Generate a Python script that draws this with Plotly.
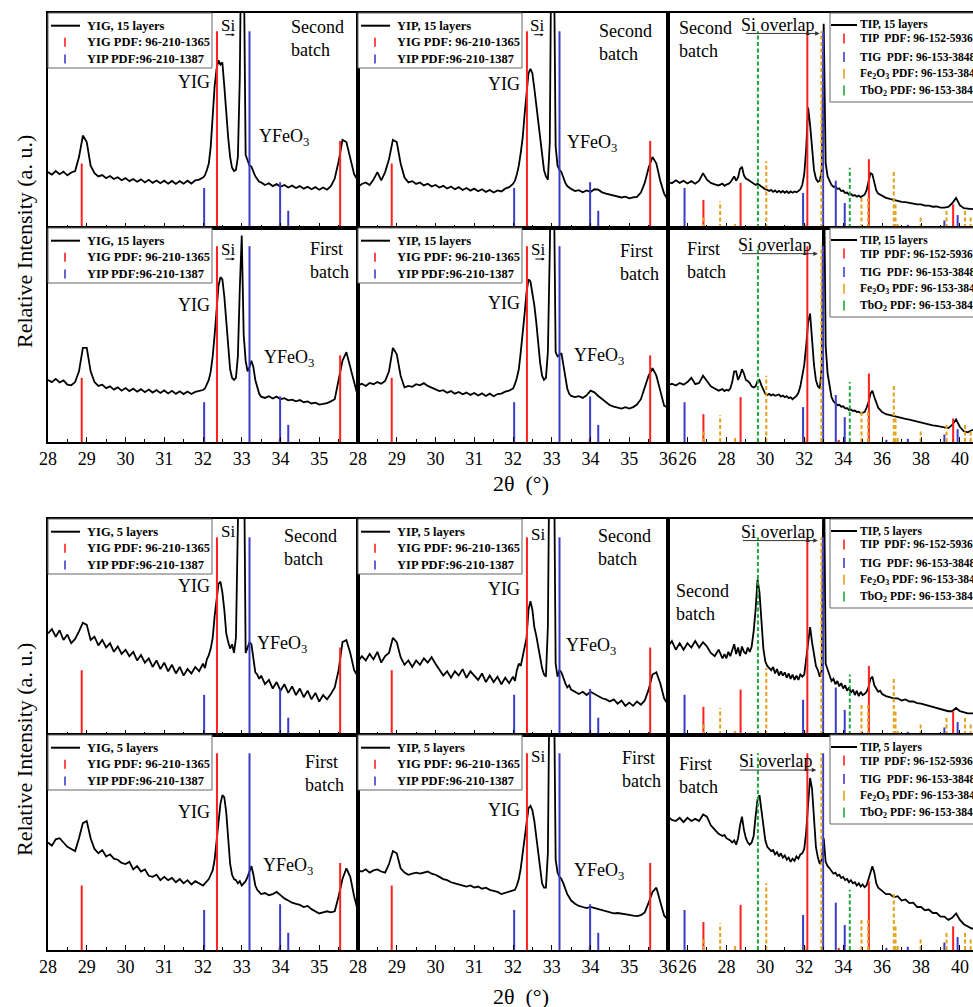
import plotly.graph_objects as go

FONT = "Liberation Serif"

# ---------------- data ----------------
X_YIG = [28.0, 28.1, 28.2, 28.3, 28.4, 28.5, 28.6, 28.7, 28.8, 28.9,
         29.0, 29.1, 29.2, 29.3, 29.4, 29.5, 29.6, 29.7, 29.8, 29.9,
         30.0, 30.1, 30.2, 30.3, 30.4, 30.5, 30.6, 30.7, 30.8, 30.9,
         31.0, 31.1, 31.2, 31.3, 31.4, 31.5, 31.6, 31.7, 31.8, 31.9,
         32.0, 32.05, 32.1, 32.15, 32.2, 32.25, 32.3, 32.35, 32.4, 32.45,
         32.5, 32.55, 32.6, 32.65, 32.7, 32.75, 32.8, 32.85, 32.9, 32.95,
         33.0, 33.05, 33.1, 33.15, 33.2, 33.25, 33.3, 33.35, 33.4, 33.45,
         33.5, 33.6, 33.7, 33.8, 33.9, 34.0, 34.1, 34.2, 34.3, 34.4,
         34.5, 34.6, 34.7, 34.8, 34.9, 35.0, 35.1, 35.2, 35.3, 35.4,
         35.5, 35.6, 35.7, 35.8, 35.9, 36.0]

X_TIP = [25.0, 25.2, 25.4, 25.6, 25.8, 26.0, 26.2, 26.4, 26.6, 26.8,
         27.0, 27.2, 27.4, 27.6, 27.8, 27.9, 28.0, 28.1, 28.2, 28.3,
         28.4, 28.5, 28.6, 28.7, 28.8, 28.9, 29.0, 29.1, 29.2, 29.3,
         29.4, 29.5, 29.6, 29.7, 29.8, 29.9, 30.0, 30.1, 30.2, 30.3,
         30.4, 30.5, 30.6, 30.7, 30.8, 30.9, 31.0, 31.1, 31.2, 31.3,
         31.4, 31.5, 31.6, 31.7, 31.8, 31.9, 32.0, 32.1, 32.2, 32.3,
         32.4, 32.5, 32.6, 32.7, 32.8, 32.9, 33.0, 33.1, 33.2, 33.3,
         33.4, 33.5, 33.6, 33.7, 33.8, 33.9, 34.0, 34.1, 34.2, 34.3,
         34.4, 34.5, 34.6, 34.7, 34.8, 34.9, 35.0, 35.1, 35.2, 35.3,
         35.4, 35.5, 35.6, 35.7, 35.8, 35.9, 36.0, 36.2, 36.4, 36.6,
         36.8, 37.0, 37.2, 37.4, 37.6, 37.8, 38.0, 38.2, 38.4, 38.6,
         38.8, 39.0, 39.2, 39.4, 39.6, 39.8, 40.0, 40.2, 40.4, 40.6,
         40.8]

# 15 layers, second batch
Y_YIG15_2 = [0.26, 0.248, 0.265, 0.25, 0.262, 0.245, 0.258, 0.265, 0.33, 0.43,
             0.40, 0.29, 0.255, 0.24, 0.246, 0.232, 0.242, 0.228, 0.236, 0.222,
             0.232, 0.218, 0.228, 0.215, 0.226, 0.212, 0.224, 0.21, 0.221, 0.208,
             0.22, 0.206, 0.219, 0.205, 0.218, 0.206, 0.22, 0.207, 0.222, 0.225,
             0.235, 0.245, 0.27, 0.30, 0.38, 0.52, 0.66, 0.74, 0.78, 0.76,
             0.77, 0.66, 0.53, 0.42, 0.33, 0.28, 0.265, 0.27, 0.33, 0.7,
             1.6, 1.3, 0.34, 0.31, 0.29, 0.285, 0.26, 0.24, 0.228, 0.215,
             0.212, 0.2, 0.208, 0.195, 0.204, 0.192, 0.2, 0.188, 0.197, 0.186,
             0.195, 0.183, 0.192, 0.18, 0.19, 0.178, 0.188, 0.178, 0.195, 0.23,
             0.31, 0.41, 0.40, 0.32, 0.25, 0.22]
Y_YIP15_2 = [0.19, 0.205, 0.212, 0.2, 0.225, 0.26, 0.222, 0.26, 0.32, 0.41,
             0.40, 0.3, 0.235, 0.212, 0.218, 0.205, 0.212, 0.198, 0.206, 0.193,
             0.2, 0.188, 0.196, 0.184, 0.193, 0.18, 0.19, 0.177, 0.186, 0.174,
             0.183, 0.171, 0.18, 0.168, 0.177, 0.165, 0.175, 0.17, 0.183, 0.19,
             0.205, 0.22, 0.25, 0.29, 0.35, 0.42, 0.53, 0.63, 0.72, 0.74,
             0.72, 0.65, 0.57, 0.48, 0.41, 0.33, 0.27, 0.24, 0.225, 0.4,
             1.6, 1.4, 0.38, 0.29, 0.27, 0.26, 0.23, 0.21, 0.195, 0.188,
             0.182, 0.172, 0.176, 0.166, 0.175, 0.168, 0.18, 0.178, 0.166, 0.16,
             0.155, 0.15, 0.148, 0.142, 0.146, 0.138, 0.142, 0.145, 0.165, 0.21,
             0.28, 0.33, 0.30, 0.22, 0.16, 0.13]
Y_TIP15_2 = [0.215, 0.208, 0.222, 0.21, 0.22, 0.207, 0.218, 0.206, 0.22, 0.255,
             0.225, 0.21, 0.203, 0.198, 0.206, 0.196, 0.202, 0.205, 0.212, 0.225,
             0.24, 0.22, 0.235, 0.275, 0.285, 0.245, 0.23, 0.225, 0.218, 0.215,
             0.205, 0.2, 0.206, 0.2, 0.19, 0.185, 0.18, 0.178, 0.172, 0.177,
             0.168, 0.175, 0.166, 0.173, 0.165, 0.172, 0.164, 0.171, 0.163, 0.17,
             0.164, 0.17, 0.166, 0.172, 0.18, 0.2, 0.25, 0.37, 0.56, 0.48,
             0.37, 0.27, 0.23, 0.215, 0.22, 0.27, 0.95, 0.3, 0.24, 0.215,
             0.2, 0.192, 0.193, 0.182, 0.184, 0.172, 0.174, 0.163, 0.165, 0.155,
             0.158, 0.15, 0.153, 0.146, 0.151, 0.144, 0.149, 0.155, 0.175, 0.21,
             0.255, 0.25, 0.205, 0.175, 0.16, 0.155, 0.15, 0.14, 0.135, 0.13,
             0.125, 0.122, 0.12, 0.116, 0.115, 0.11, 0.11, 0.104, 0.104, 0.099,
             0.1, 0.095, 0.095, 0.098, 0.115, 0.14, 0.105, 0.092, 0.09, 0.088,
             0.09]
# 15 layers, first batch
Y_YIG15_1 = [0.29, 0.28, 0.295, 0.278, 0.288, 0.268, 0.265, 0.28, 0.33, 0.44,
             0.44, 0.33, 0.28, 0.262, 0.268, 0.252, 0.26, 0.245, 0.255, 0.24,
             0.252, 0.238, 0.249, 0.235, 0.247, 0.233, 0.245, 0.231, 0.243, 0.229,
             0.241, 0.227, 0.239, 0.225, 0.237, 0.224, 0.236, 0.224, 0.234, 0.238,
             0.243, 0.25, 0.27, 0.29, 0.33, 0.4, 0.5, 0.62, 0.73, 0.77,
             0.76, 0.68, 0.56, 0.44, 0.34, 0.3, 0.29, 0.3, 0.4, 0.72,
             0.965, 0.5, 0.38, 0.33, 0.35, 0.38, 0.35, 0.29, 0.25, 0.225,
             0.212, 0.206, 0.214, 0.203, 0.212, 0.2, 0.205, 0.195, 0.198, 0.19,
             0.196, 0.186, 0.19, 0.18, 0.184, 0.175, 0.178, 0.182, 0.19, 0.2,
             0.29, 0.38, 0.42, 0.35, 0.28, 0.21]
Y_YIP15_1 = [0.266, 0.272, 0.262, 0.276, 0.27, 0.28, 0.272, 0.285, 0.33, 0.44,
             0.41, 0.31, 0.255, 0.262, 0.258, 0.27, 0.265, 0.275, 0.262, 0.255,
             0.246, 0.238, 0.242, 0.23, 0.238, 0.226, 0.234, 0.223, 0.231, 0.22,
             0.229, 0.217, 0.227, 0.215, 0.226, 0.214, 0.224, 0.226, 0.235, 0.24,
             0.25, 0.27, 0.30, 0.34, 0.42, 0.5, 0.6, 0.7, 0.76, 0.75,
             0.7, 0.64, 0.56, 0.46, 0.37, 0.31, 0.29, 0.3, 0.42, 0.9,
             1.5, 1.3, 0.42, 0.4, 0.41, 0.415, 0.36, 0.3, 0.25, 0.225,
             0.215, 0.21, 0.214, 0.206, 0.218, 0.24, 0.232, 0.215, 0.2, 0.185,
             0.172, 0.165, 0.162, 0.156, 0.163, 0.156, 0.163, 0.175, 0.2, 0.25,
             0.31, 0.345, 0.31, 0.24, 0.17, 0.16]
Y_TIP15_1 = [0.267, 0.272, 0.264, 0.276, 0.268, 0.28, 0.3, 0.27, 0.276, 0.31,
             0.285, 0.26, 0.25, 0.24, 0.247, 0.238, 0.244, 0.24, 0.25, 0.28,
             0.33, 0.33, 0.29, 0.31, 0.34, 0.32, 0.29, 0.285, 0.275, 0.26,
             0.255, 0.26, 0.285, 0.29, 0.265, 0.24, 0.225, 0.22, 0.225, 0.217,
             0.223, 0.216, 0.219, 0.222, 0.212, 0.217, 0.209, 0.214, 0.205, 0.209,
             0.2, 0.206, 0.215, 0.23, 0.26, 0.31, 0.36, 0.45, 0.56, 0.6,
             0.48, 0.36, 0.29, 0.26, 0.25, 0.35, 1.4, 0.45, 0.32, 0.26,
             0.21, 0.19, 0.182, 0.172, 0.174, 0.165, 0.167, 0.157, 0.158, 0.15,
             0.152, 0.145, 0.147, 0.14, 0.142, 0.135, 0.137, 0.14, 0.16, 0.185,
             0.225, 0.24, 0.21, 0.18, 0.16, 0.15, 0.14, 0.13, 0.125, 0.12,
             0.115, 0.112, 0.108, 0.105, 0.1, 0.095, 0.09, 0.085, 0.08, 0.078,
             0.075, 0.07, 0.068, 0.065, 0.08, 0.105, 0.07, 0.05, 0.045, 0.055,
             0.06]
# 5 layers, second batch
Y_YIG5_2 = [0.47, 0.49, 0.455, 0.485, 0.44, 0.465, 0.425, 0.445, 0.48, 0.52,
            0.51, 0.44, 0.455, 0.415, 0.44, 0.405, 0.425, 0.385, 0.41, 0.375,
            0.395, 0.365, 0.385, 0.345, 0.37, 0.335, 0.355, 0.315, 0.345, 0.305,
            0.335, 0.295, 0.325, 0.285, 0.315, 0.275, 0.305, 0.285, 0.315, 0.295,
            0.33, 0.31, 0.35, 0.37, 0.40, 0.45, 0.55, 0.64, 0.70, 0.71,
            0.66, 0.58, 0.47, 0.43, 0.40, 0.42, 0.38, 0.45, 0.9, 1.5,
            1.6, 1.5, 0.38, 0.41, 0.43, 0.42, 0.36, 0.29, 0.28, 0.26,
            0.275, 0.235, 0.255, 0.215, 0.245, 0.205, 0.235, 0.195, 0.225, 0.185,
            0.215, 0.175, 0.205, 0.165, 0.195, 0.155, 0.185, 0.165, 0.19, 0.22,
            0.3, 0.43, 0.44, 0.38, 0.3, 0.27]
Y_YIP5_2 = [0.34, 0.365, 0.345, 0.375, 0.35, 0.385, 0.335, 0.365, 0.38, 0.45,
            0.43, 0.36, 0.325, 0.345, 0.315, 0.345, 0.325, 0.355, 0.335, 0.36,
            0.33, 0.3, 0.275, 0.295, 0.265, 0.295, 0.275, 0.305, 0.265, 0.295,
            0.275, 0.255, 0.285, 0.245, 0.275, 0.245, 0.27, 0.235, 0.265, 0.24,
            0.27, 0.25, 0.3, 0.33, 0.32, 0.36, 0.4, 0.45, 0.58, 0.62,
            0.58, 0.5, 0.46, 0.4, 0.36, 0.31, 0.28, 0.27, 0.5, 1.5,
            1.6, 1.5, 0.33, 0.27, 0.3, 0.29, 0.26, 0.24, 0.22, 0.23,
            0.21, 0.2, 0.19, 0.2, 0.185, 0.2, 0.19, 0.18, 0.17, 0.165,
            0.155, 0.165, 0.145, 0.16, 0.135, 0.15, 0.135, 0.155, 0.14, 0.16,
            0.21, 0.28, 0.29, 0.24, 0.17, 0.14]
Y_TIP5_2 = [0.41, 0.435, 0.395, 0.425, 0.395, 0.425, 0.405, 0.435, 0.405, 0.43,
            0.41, 0.38, 0.365, 0.395, 0.355, 0.375, 0.355, 0.385, 0.365, 0.395,
            0.42, 0.375, 0.405, 0.365, 0.41, 0.385, 0.375, 0.405, 0.385, 0.41,
            0.48, 0.58, 0.72, 0.66, 0.5, 0.4, 0.34, 0.32, 0.31, 0.3,
            0.315, 0.285, 0.305, 0.275, 0.295, 0.275, 0.29, 0.265, 0.285, 0.26,
            0.28, 0.255, 0.275, 0.255, 0.28, 0.27, 0.28, 0.36, 0.45, 0.5,
            0.43, 0.37, 0.32, 0.3, 0.27, 0.3, 1.4, 0.33, 0.3, 0.27,
            0.25, 0.26, 0.235, 0.25, 0.225, 0.24, 0.215, 0.23, 0.205, 0.22,
            0.195, 0.21, 0.185, 0.205, 0.18, 0.2, 0.185, 0.19, 0.2, 0.22,
            0.26, 0.27, 0.23, 0.215, 0.2, 0.205, 0.19, 0.18, 0.175, 0.17,
            0.17, 0.16, 0.165, 0.155, 0.155, 0.148, 0.145, 0.14, 0.135, 0.13,
            0.125, 0.12, 0.118, 0.11, 0.11, 0.125, 0.11, 0.105, 0.1, 0.1,
            0.1]
# 5 layers, first batch
Y_YIG5_1 = [0.5, 0.485, 0.515, 0.52, 0.5, 0.48, 0.47, 0.46, 0.52, 0.59,
            0.6, 0.52, 0.47, 0.45, 0.465, 0.435, 0.445, 0.425, 0.42, 0.405,
            0.40, 0.41, 0.375, 0.39, 0.365, 0.375, 0.345, 0.34, 0.35, 0.325,
            0.34, 0.325, 0.335, 0.315, 0.33, 0.31, 0.325, 0.305, 0.32, 0.31,
            0.3, 0.31, 0.32, 0.33, 0.35, 0.37, 0.42, 0.5, 0.6, 0.68,
            0.72, 0.71, 0.64, 0.52, 0.4, 0.35, 0.33, 0.325, 0.31, 0.32,
            0.3, 0.31, 0.32, 0.34, 0.37, 0.39, 0.35, 0.3, 0.28, 0.27,
            0.26, 0.265, 0.255, 0.26, 0.27, 0.255, 0.24, 0.23, 0.22, 0.215,
            0.21, 0.2, 0.205, 0.19, 0.18, 0.17, 0.175, 0.18, 0.175, 0.18,
            0.25, 0.33, 0.38, 0.34, 0.25, 0.18]
Y_YIP5_1 = [0.37, 0.365, 0.375, 0.36, 0.37, 0.375, 0.365, 0.36, 0.4, 0.46,
            0.45, 0.38, 0.36, 0.35, 0.355, 0.36, 0.355, 0.36, 0.365, 0.355,
            0.35, 0.34, 0.33, 0.325, 0.315, 0.31, 0.305, 0.3, 0.295, 0.3,
            0.29, 0.295, 0.285, 0.29, 0.28, 0.275, 0.27, 0.26, 0.265, 0.27,
            0.275, 0.28, 0.3, 0.33, 0.38, 0.45, 0.52, 0.6, 0.66, 0.67,
            0.65, 0.6, 0.53, 0.44, 0.37, 0.31, 0.29, 0.29, 0.45, 1.4,
            1.6, 1.4, 0.42, 0.36, 0.34, 0.33, 0.31, 0.28, 0.26, 0.245,
            0.23, 0.215, 0.205, 0.2, 0.195, 0.2, 0.195, 0.19, 0.182, 0.18,
            0.175, 0.17, 0.172, 0.168, 0.165, 0.163, 0.16, 0.158, 0.162, 0.175,
            0.22, 0.27, 0.29, 0.23, 0.16, 0.14]
Y_TIP5_1 = [0.62, 0.605, 0.6, 0.615, 0.595, 0.615, 0.6, 0.61, 0.6, 0.63,
            0.62, 0.58, 0.56, 0.54, 0.53, 0.535, 0.52, 0.515, 0.51, 0.5,
            0.51, 0.49, 0.52, 0.58, 0.62, 0.56, 0.52, 0.5, 0.49, 0.5,
            0.53, 0.62, 0.7, 0.72, 0.64, 0.57, 0.51, 0.48, 0.47, 0.46,
            0.465, 0.445, 0.455, 0.435, 0.45, 0.43, 0.44, 0.42, 0.43, 0.41,
            0.425, 0.415, 0.435, 0.425, 0.445, 0.45, 0.47, 0.55, 0.68, 0.8,
            0.75, 0.6, 0.48, 0.43, 0.4, 0.42, 0.52, 0.41, 0.39, 0.38,
            0.37, 0.355, 0.36, 0.345, 0.35, 0.335, 0.34, 0.325, 0.33, 0.315,
            0.325, 0.31, 0.315, 0.3, 0.31, 0.295, 0.305, 0.292, 0.3, 0.33,
            0.37, 0.39, 0.36, 0.31, 0.29, 0.28, 0.275, 0.26, 0.26, 0.245,
            0.25, 0.23, 0.235, 0.218, 0.22, 0.2, 0.2, 0.185, 0.188, 0.172,
            0.172, 0.155, 0.155, 0.14, 0.15, 0.17, 0.14, 0.12, 0.11, 0.1,
            0.1]

# reference patterns (position, relative height)
YIG_PDF_X = [28.87, 32.36, 33.98, 35.54]
YIG_PDF_H = [0.30, 0.915, 0.015, 0.405]
YIP_PDF_X = [32.03, 33.2, 33.99, 34.2]
YIP_PDF_H = [0.186, 0.915, 0.213, 0.08]
TIP_PDF_X = [26.82, 28.73, 32.16, 33.77, 35.32, 39.65]
TIP_PDF_H = [0.13, 0.21, 0.915, 0.01, 0.32, 0.11]
TIG_PDF_X = [25.85, 31.94, 32.97, 33.62, 34.08, 36.22, 37.32, 39.2, 39.88]
TIG_PDF_H = [0.186, 0.163, 0.915, 0.22, 0.116, 0.01, 0.015, 0.035, 0.06]
FE2O3_X = [26.83, 27.68, 28.45, 30.05, 32.02, 32.88, 34.94, 35.28, 36.6, 36.69, 36.8, 37.98, 39.31, 40.26, 40.55]
FE2O3_H = [0.05, 0.125, 0.023, 0.31, 0.02, 0.915, 0.143, 0.14, 0.27, 0.12, 0.02, 0.055, 0.08, 0.08, 0.05]
TBO2_X = [29.62, 34.34]
TBO2_H = [0.915, 0.28]

SAMPLE_NAMES = ["YIG, 15 layers", "YIP, 15 layers", "TIP, 15 layers",
                "YIG, 15 layers", "YIP, 15 layers", "TIP, 15 layers",
                "YIG, 5 layers", "YIP, 5 layers", "TIP, 5 layers",
                "YIG, 5 layers", "YIP, 5 layers", "TIP, 5 layers"]
CURVES = [Y_YIG15_2, Y_YIP15_2, Y_TIP15_2,
          Y_YIG15_1, Y_YIP15_1, Y_TIP15_1,
          Y_YIG5_2, Y_YIP5_2, Y_TIP5_2,
          Y_YIG5_1, Y_YIP5_1, Y_TIP5_1]

RED, BLUE, ORANGE, GREEN = "#ff1f1f", "#3b3bc8", "#e3a21a", "#1fa83a"
YP_NAMES = ["YIG PDF: 96-210-1365", "YIP PDF:96-210-1387"]
TP_NAMES = ["TIP  PDF: 96-152-5936", "TIG  PDF: 96-153-3848",
            "Fe<sub>2</sub>O<sub>3</sub> PDF: 96-153-3848",
            "TbO<sub>2</sub> PDF: 96-153-3848"]

# ---------------- layout geometry ----------------
W, H = 973, 1007
ML, MR, MT, MB = 48, 0, 13, 57
PW, PH = W - ML - MR, H - MT - MB
COLS = [(48, 358), (358, 668), (668, 973)]
ROWS = [(13, 228), (228, 442), (519, 735), (735, 950)]


def pxx(p):
    return (p - ML) / PW


def pxy(p):
    return (H - MB - p) / PH


def sticks(xs, hs):
    sx, sy = [], []
    for x, h in zip(xs, hs):
        sx += [x, x, None]
        sy += [0, h, None]
    return sx, sy


fig = go.Figure()
layout = dict(width=W, height=H, paper_bgcolor="white", plot_bgcolor="white",
              margin=dict(l=ML, r=MR, t=MT, b=MB, autoexpand=False),
              showlegend=False)
annotations = []
shapes = []

# legend box geometry (pixels, relative to box corner)
LEG_SMALL = dict(w=164, h=55, rows=[12.7, 29.3, 46.0], line=(3, 32), tick=17,
                 text=37, font=12.5, tick_h=9)
LEG_BIG = dict(w=200, h=89, rows=[12.0, 25.5, 44.0, 60.7, 77.5], line=(1, 27), tick=14,
               text=28, font=11.5, tick_h=10)

for r in range(4):
    for c in range(3):
        k = r * 3 + c + 1
        xa, ya = f"x{k}", f"y{k}"
        right = (c == 2)
        xd = [pxx(COLS[c][0]), pxx(COLS[c][1])]
        yd = [pxy(ROWS[r][1]), pxy(ROWS[r][0])]
        bottom_row = r in (1, 3)
        if right:
            xr = [25, 40.67]
            tv = [26, 28, 30, 32, 34, 36, 38, 40]
            mv = [25, 27, 29, 31, 33, 35, 37, 39]
        else:
            xr = [28, 36]
            tv = [28, 29, 30, 31, 32, 33, 34, 35] + ([36] if c == 1 else [])
            mv = [28.5, 29.5, 30.5, 31.5, 32.5, 33.5, 34.5, 35.5]
        layout[f"xaxis{k}"] = dict(
            domain=xd, range=xr, anchor=ya, showline=True, linecolor="black",
            linewidth=1.5, mirror=True, ticks="inside", ticklen=5, tickwidth=1.2,
            tickcolor="black", tickmode="array", tickvals=tv,
            showticklabels=bottom_row,
            tickfont=dict(family=FONT, size=18, color="black"),
            showgrid=False, zeroline=False,
            minor=dict(ticks="inside", ticklen=3, tickwidth=1, tickcolor="black",
                       tickmode="array", tickvals=mv))
        layout[f"yaxis{k}"] = dict(
            domain=yd, range=[0, 1], anchor=xa, showline=True, linecolor="black",
            linewidth=1.5, mirror=not right, ticks="", showticklabels=False,
            showgrid=False, zeroline=False)

        xs = X_TIP if right else X_YIG
        fig.add_trace(go.Scatter(x=xs, y=CURVES[k - 1], mode="lines",
                                 line=dict(color="black", width=1.8),
                                 name=SAMPLE_NAMES[k - 1], xaxis=xa, yaxis=ya,
                                 hoverinfo="skip"))
        if right:
            sets = [(TIP_PDF_X, TIP_PDF_H, RED, "solid", TP_NAMES[0]),
                    (TIG_PDF_X, TIG_PDF_H, BLUE, "solid", TP_NAMES[1]),
                    (FE2O3_X, FE2O3_H, ORANGE, "4px,2.5px", TP_NAMES[2]),
                    (TBO2_X, TBO2_H, GREEN, "4px,2.5px", TP_NAMES[3])]
        else:
            sets = [(YIG_PDF_X, YIG_PDF_H, RED, "solid", YP_NAMES[0]),
                    (YIP_PDF_X, YIP_PDF_H, BLUE, "solid", YP_NAMES[1])]
        for sxv, shv, col, dash, nm in sets:
            sx, sy = sticks(sxv, shv)
            fig.add_trace(go.Scatter(x=sx, y=sy, mode="lines", name=nm,
                                     line=dict(color=col, width=2, dash=dash),
                                     xaxis=xa, yaxis=ya, hoverinfo="skip"))

        # ---- legend box ----
        L = LEG_BIG if right else LEG_SMALL
        bx = 830 if right else COLS[c][0]
        by = ROWS[r][0]
        shapes.append(dict(type="rect", xref="paper", yref="paper", layer="above",
                           x0=pxx(bx), x1=pxx(bx + L["w"]), y0=pxy(by + L["h"]), y1=pxy(by),
                           line=dict(color="#666", width=1), fillcolor="white"))
        entries = [(SAMPLE_NAMES[k - 1], "black", True)] + [(s[4], s[2], False) for s in sets]
        for (nm, col, is_line), ry in zip(entries, L["rows"]):
            yy = by + ry
            if is_line:
                shapes.append(dict(type="line", xref="paper", yref="paper", layer="above",
                                   x0=pxx(bx + L["line"][0]), x1=pxx(bx + L["line"][1]),
                                   y0=pxy(yy), y1=pxy(yy), line=dict(color=col, width=2)))
            else:
                shapes.append(dict(type="line", xref="paper", yref="paper", layer="above",
                                   x0=pxx(bx + L["tick"]), x1=pxx(bx + L["tick"]),
                                   y0=pxy(yy - L["tick_h"] / 2), y1=pxy(yy + L["tick_h"] / 2),
                                   line=dict(color=col, width=1.6)))
            annotations.append(dict(text=nm, x=pxx(bx + L["text"]), y=pxy(yy),
                                    xref="paper", yref="paper", xanchor="left",
                                    yanchor="middle", showarrow=False,
                                    font=dict(family=FONT, size=L["font"], color="black",
                                              weight="bold")))

# ---------------- text labels ----------------
TXT = dict(family=FONT, size=18, color="black")
BATCH = {1: ("Second", 34.22, 0.88), 2: ("Second", 34.16, 0.863), 3: ("Second", 25.45, 0.875),
         4: ("First", 34.7, 0.85), 5: ("First", 34.7, 0.84), 6: ("First", 25.85, 0.85),
         7: ("Second", 34.03, 0.87), 8: ("Second", 34.13, 0.87), 9: ("Second", 25.3, 0.615),
         10: ("First", 34.59, 0.82), 11: ("First", 34.76, 0.84), 12: ("First", 25.47, 0.81)}
YIG_LBL = {1: 0.68, 2: 0.67, 4: 0.64, 5: 0.65, 7: 0.69, 8: 0.675, 10: 0.64, 11: 0.65}
YFEO_LBL = {1: (33.39, 0.42), 2: (33.34, 0.395), 4: (33.51, 0.39), 5: (33.53, 0.40),
            7: (33.34, 0.417), 8: (33.32, 0.41), 10: (33.49, 0.39), 11: (33.53, 0.365)}
SI_LBL = {1: (32.65, 0.944, True), 2: (32.62, 0.944, True), 4: (32.65, 0.9, True),
          5: (32.65, 0.9, True), 7: (32.65, 0.94, False), 8: (32.64, 0.926, False),
          11: (32.64, 0.9, False)}
SIOV_LBL = {3: (30.67, 0.944, 0.905, 28.93, 32.79), 6: (30.5, 0.92, 0.88, 28.73, 32.7),
            9: (30.63, 0.94, 0.9, 28.76, 32.7), 12: (30.56, 0.88, 0.837, 28.62, 32.62)}

for k, (w, x, y) in BATCH.items():
    annotations.append(dict(text=f"{w}<br>batch", x=x, y=y, xref=f"x{k}", yref=f"y{k}",
                            xanchor="left", yanchor="middle", align="left",
                            showarrow=False, font=TXT))
for k, y in YIG_LBL.items():
    annotations.append(dict(text="YIG", x=32.24, y=y, xref=f"x{k}", yref=f"y{k}",
                            xanchor="right", yanchor="middle", showarrow=False, font=TXT))
for k, (x, y) in YFEO_LBL.items():
    annotations.append(dict(text="YFeO<sub>3</sub>", x=x, y=y, xref=f"x{k}", yref=f"y{k}",
                            xanchor="left", yanchor="middle", showarrow=False, font=TXT))
for k, (x, y, arr) in SI_LBL.items():
    annotations.append(dict(text="Si", x=x, y=y, xref=f"x{k}", yref=f"y{k}",
                            xanchor="center", yanchor="middle", showarrow=False,
                            font=dict(family=FONT, size=17, color="black")))
    if arr:
        annotations.append(dict(text="", x=x + 0.17, y=y - 0.045, ax=x - 0.11, ay=y - 0.045,
                                xref=f"x{k}", yref=f"y{k}", axref=f"x{k}", ayref=f"y{k}",
                                showarrow=True, arrowhead=2, arrowsize=0.6,
                                arrowwidth=1, arrowcolor="black"))
for k, (x, y, ya, x0, x1) in SIOV_LBL.items():
    annotations.append(dict(text="Si overlap", x=x, y=y, xref=f"x{k}", yref=f"y{k}",
                            xanchor="center", yanchor="middle", showarrow=False, font=TXT))
    annotations.append(dict(text="", x=x1, y=ya, ax=x0, ay=ya,
                            xref=f"x{k}", yref=f"y{k}", axref=f"x{k}", ayref=f"y{k}",
                            showarrow=True, arrowhead=2, arrowsize=0.9,
                            arrowwidth=1, arrowcolor="#333"))

# axis titles
for yc in (242, 750):
    annotations.append(dict(text="Relative Intensity (a. u.)", x=pxx(24), y=pxy(yc),
                            xref="paper", yref="paper", textangle=-90, showarrow=False,
                            xanchor="center", yanchor="middle",
                            font=dict(family=FONT, size=22, color="black")))
for yp in (483, 997):
    annotations.append(dict(text="2θ\u00a0\u00a0(°)", x=pxx(521), y=pxy(yp),
                            xref="paper", yref="paper", showarrow=False,
                            xanchor="center", yanchor="middle",
                            font=dict(family=FONT, size=22, color="black")))

layout["annotations"] = annotations
layout["shapes"] = shapes
fig.update_layout(**layout)
fig.write_html("out.html")
